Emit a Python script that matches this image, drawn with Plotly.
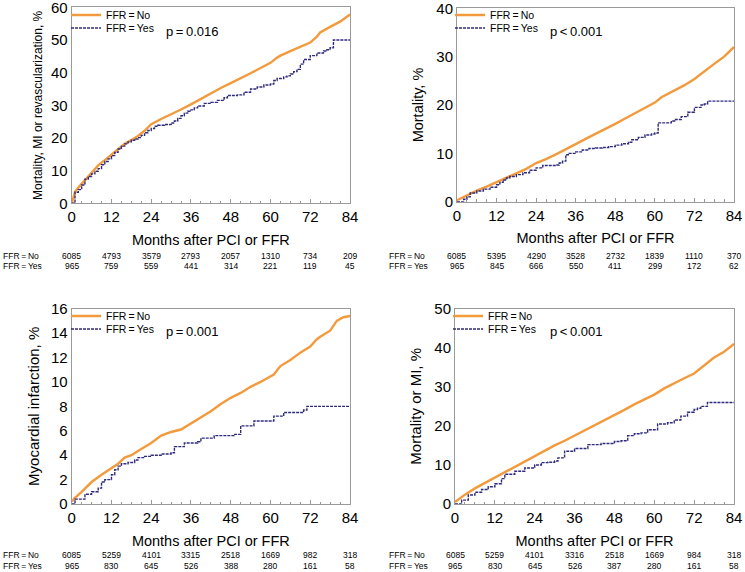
import plotly.graph_objects as go

# ---------------- data ----------------
months_ticks = [0, 12, 24, 36, 48, 60, 72, 84]

# Panel A: Mortality, MI or revascularization
a_no_t = [0, 1, 2, 4, 6, 8, 10, 12, 14, 16, 18, 20, 22, 24, 27, 30, 33, 36, 39, 42, 45, 48, 51, 54, 57, 60, 62, 63, 66, 69, 72, 74, 75, 78, 81, 84]
a_no_y = [0, 3.5, 4.8, 7.1, 9.5, 11.6, 13.2, 14.8, 16.5, 18.2, 19.4, 20.6, 22.2, 24.2, 25.8, 27.2, 28.7, 30.3, 32.0, 33.7, 35.3, 36.8, 38.2, 39.8, 41.4, 43.0, 44.6, 45.2, 46.6, 47.8, 49.2, 51.0, 52.3, 54.0, 55.6, 57.8]
a_yes_t = [0, 1, 2, 3, 4, 5, 6, 7, 8, 9, 10, 11, 12, 13, 14, 15, 16, 17, 18, 19, 20, 21, 22, 23, 24, 25, 26, 28, 30, 31, 32, 33, 34, 35, 36, 37, 38, 40, 42, 44, 46, 47, 49, 50, 52, 54, 56, 58, 60, 61, 62, 64, 65, 66, 67, 68, 69, 70, 72, 74, 76, 77, 78, 79, 84]
a_yes_y = [0, 3.4, 4.2, 5.6, 7.4, 8.2, 9.0, 9.8, 10.6, 11.8, 12.8, 13.6, 14.6, 15.6, 16.6, 17.5, 18.2, 18.8, 19.3, 19.7, 20.1, 20.8, 21.6, 22.3, 22.9, 23.6, 23.9, 24.1, 24.6, 25.2, 26.0, 26.8, 27.6, 28.2, 28.6, 29.2, 29.8, 30.6, 30.9, 31.5, 32.3, 33.0, 33.0, 33.2, 34.0, 35.0, 35.6, 36.2, 36.5, 37.6, 38.2, 38.7, 39.0, 39.6, 40.3, 41.0, 42.6, 44.0, 45.2, 46.0, 46.6, 47.0, 47.6, 50.0, 50.0]

# Panel B: Mortality
b_no_t = [0, 3, 6, 9, 12, 15, 18, 21, 24, 27, 30, 33, 36, 39, 42, 45, 48, 51, 54, 57, 60, 62, 66, 69, 72, 75, 78, 81, 84]
b_no_y = [0.3, 1.3, 2.3, 3.1, 4.0, 4.9, 5.8, 6.8, 8.0, 8.8, 9.8, 10.8, 11.9, 13.0, 14.0, 15.0, 16.1, 17.2, 18.3, 19.4, 20.5, 21.6, 23.0, 24.1, 25.4, 27.0, 28.5, 30.0, 32.0]
b_yes_t = [0, 2, 3, 4, 6, 8, 10, 12, 13, 14, 15, 16, 18, 20, 22, 24, 26, 28, 30, 31, 32, 33, 34, 36, 38, 40, 42, 44, 46, 48, 50, 52, 53, 55, 57, 59, 60, 61, 64, 65, 66, 68, 70, 72, 74, 75, 76, 84]
b_yes_y = [0, 0.5, 1.0, 1.8, 2.2, 2.6, 3.0, 3.5, 4.0, 4.5, 4.9, 5.2, 5.6, 6.0, 6.5, 7.0, 7.5, 7.5, 7.6, 8.0, 8.4, 9.7, 10.0, 10.3, 10.7, 11.0, 11.1, 11.2, 11.4, 11.7, 12.0, 12.3, 12.8, 13.3, 13.8, 14.0, 14.2, 16.3, 16.3, 16.7, 17.0, 17.6, 18.5, 19.5, 20.0, 20.2, 20.8, 20.8]

# Panel C: Myocardial infarction
c_no_t = [0, 1, 3, 6, 9, 12, 14, 16, 18, 21, 24, 27, 30, 33, 36, 39, 42, 45, 48, 51, 54, 57, 60, 61, 63, 66, 69, 72, 74, 75, 78, 80, 82, 84]
c_no_y = [0.2, 0.5, 1.0, 1.8, 2.4, 2.9, 3.3, 3.8, 4.0, 4.5, 5.0, 5.6, 5.9, 6.1, 6.6, 7.1, 7.6, 8.2, 8.7, 9.1, 9.6, 10.0, 10.4, 10.6, 11.3, 11.8, 12.4, 12.9, 13.5, 13.7, 14.2, 15.0, 15.3, 15.4]
c_yes_t = [0, 1, 4, 6, 8, 9, 10, 12, 13, 14, 15, 17, 19, 20, 22, 24, 27, 30, 31, 34, 38, 39, 43, 49, 51, 55, 61, 64, 70, 71, 84]
c_yes_y = [0, 0.4, 0.8, 1.0, 1.3, 1.8, 2.0, 2.4, 2.8, 3.1, 3.3, 3.4, 3.6, 3.8, 3.9, 4.0, 4.1, 4.2, 4.7, 5.0, 5.1, 5.4, 5.6, 5.7, 6.4, 6.8, 7.2, 7.5, 7.7, 8.0, 8.0]

# Panel D: Mortality or MI
d_no_t = [0, 3, 6, 9, 12, 15, 18, 21, 24, 27, 30, 33, 36, 39, 42, 45, 48, 51, 54, 57, 60, 63, 66, 69, 72, 75, 78, 81, 84]
d_no_y = [0.5, 2.4, 4.0, 5.4, 6.8, 8.1, 9.5, 10.8, 12.3, 13.7, 15.0, 16.2, 17.5, 18.8, 20.0, 21.4, 22.8, 24.1, 25.5, 26.8, 28.0, 29.6, 31.0, 32.2, 33.4, 35.5, 37.5, 39.0, 41.0]
d_yes_t = [0, 2, 4, 6, 8, 10, 12, 14, 15, 18, 21, 24, 26, 28, 30, 31, 33, 36, 40, 44, 48, 50, 52, 54, 56, 58, 60, 61, 64, 66, 68, 70, 72, 73, 74, 76, 84]
d_yes_y = [0, 1.0, 2.3, 3.0, 3.7, 4.4, 5.2, 6.5, 7.6, 8.4, 9.2, 10.0, 10.6, 10.7, 11.0, 11.8, 13.5, 14.2, 15.2, 15.5, 16.0, 16.2, 17.5, 18.0, 18.2, 19.0, 19.0, 20.5, 20.8, 21.5, 22.5, 23.5, 24.2, 24.5, 25.0, 26.0, 26.0]

# Numbers at risk
a_risk_no = [6085, 4793, 3579, 2793, 2057, 1310, 734, 209]
a_risk_yes = [965, 759, 559, 441, 314, 221, 119, 45]
b_risk_no = [6085, 5395, 4290, 3528, 2732, 1839, 1110, 370]
b_risk_yes = [965, 845, 666, 550, 411, 299, 172, 62]
c_risk_no = [6085, 5259, 4101, 3315, 2518, 1669, 982, 318]
c_risk_yes = [965, 830, 645, 526, 388, 280, 161, 58]
d_risk_no = [6085, 5259, 4101, 3316, 2518, 1669, 984, 318]
d_risk_yes = [965, 830, 645, 526, 387, 280, 161, 58]

y_titles = ["Mortality, MI or revascularization, %", "Mortality, %", "Myocardial infarction, %", "Mortality or MI, %"]
p_values = ["p\u2009=\u20090.016", "p\u2009<\u20090.001", "p\u2009=\u20090.001", "p\u2009<\u20090.001"]
y_ranges = [[0, 60], [0, 40], [0, 16], [0, 50]]
y_tickvals = [
    [0, 10, 20, 30, 40, 50, 60],
    [0, 10, 20, 30, 40],
    [0, 2, 4, 6, 8, 10, 12, 14, 16],
    [0, 10, 20, 30, 40, 50],
]
x_title = "Months after PCI or FFR"
lab_no = "FFR\u2009=\u2009No"
lab_yes = "FFR\u2009=\u2009Yes"

# ---------------- styling / layout ----------------
W, H = 745, 572
ORANGE = "#F29A3C"
NAVY = "#2F2C7C"
FONT = "Liberation Sans, Arial, sans-serif"

x_doms = [[71.7 / W, 350 / W], [457 / W, 734 / W], [71.7 / W, 350 / W], [455 / W, 734 / W]]
y_doms = [[1 - 203.3 / H, 1 - 7.3 / H], [1 - 201.7 / H, 1 - 8.3 / H],
          [1 - 504 / H, 1 - 308.7 / H], [1 - 504 / H, 1 - 308.7 / H]]
ytitle_sizes = [12, 14.5, 15, 15]
ytitle_standoff = [5, 9, 7, 9]
legend_x = [72, 456, 72, 454]
legend_y = [[15, 28], [15, 28], [316, 329], [316, 329]]
p_pos = [(192, 32), (576, 32), (192, 331), (576, 331)]
risk_rows = [(256, 265.5), (256, 265.5), (555, 566), (555, 566)]
risk_label_x = [1, 387, 1, 387]

curves = [
    (a_no_t, a_no_y, a_yes_t, a_yes_y),
    (b_no_t, b_no_y, b_yes_t, b_yes_y),
    (c_no_t, c_no_y, c_yes_t, c_yes_y),
    (d_no_t, d_no_y, d_yes_t, d_yes_y),
]
risks = [(a_risk_no, a_risk_yes), (b_risk_no, b_risk_yes), (c_risk_no, c_risk_yes), (d_risk_no, d_risk_yes)]

fig = go.Figure()
annotations = []
layout = dict(
    width=W, height=H,
    margin=dict(l=0, r=0, t=0, b=0),
    paper_bgcolor="white", plot_bgcolor="white",
    font=dict(family=FONT, color="black"),
    showlegend=True,
)

for i in range(4):
    n = i + 1
    xs = "" if n == 1 else str(n)
    tno, yno, tyes, yyes = curves[i]
    leg_a = "legend" if n == 1 else f"legend{2 * i + 1}"
    leg_b = f"legend{2 * i + 2}"
    fig.add_trace(go.Scatter(
        x=tno, y=yno, mode="lines", name=lab_no,
        line=dict(color=ORANGE, width=2.4),
        xaxis="x" + xs, yaxis="y" + xs, legend=leg_a,
    ))
    fig.add_trace(go.Scatter(
        x=tyes, y=yyes, mode="lines", name=lab_yes,
        line=dict(color=NAVY, width=1.4, dash="3px,1px", shape="hv"),
        xaxis="x" + xs, yaxis="y" + xs, legend=leg_b,
    ))
    for leg, yy in ((leg_a, legend_y[i][0]), (leg_b, legend_y[i][1])):
        layout[leg] = dict(
            x=(legend_x[i] - 6) / W, xanchor="left",
            y=1 - yy / H, yanchor="middle",
            bgcolor="rgba(0,0,0,0)", borderwidth=0,
            font=dict(family=FONT, size=10.5, color="black"),
            itemwidth=30, tracegroupgap=0,
        )

    layout["xaxis" + xs] = dict(
        domain=x_doms[i], anchor="y" + xs, range=[0, 84],
        tickmode="array", tickvals=months_ticks,
        ticks="inside", ticklen=4, tickcolor="#999999",
        minor=dict(ticks="inside", ticklen=2.5, tickcolor="#999999", dtick=3, tick0=0),
        showline=True, linecolor="#9a9a9a", linewidth=1, mirror=True,
        showgrid=False, zeroline=False,
        tickfont=dict(family=FONT, size=15, color="black"),
        ticklabeloverflow="allow",
        title=dict(text=x_title, font=dict(family=FONT, size=14.5, color="black"), standoff=10),
        automargin=False, fixedrange=True,
    )
    layout["yaxis" + xs] = dict(
        domain=y_doms[i], anchor="x" + xs, range=y_ranges[i],
        tickmode="array", tickvals=y_tickvals[i],
        ticks="", showline=True, linecolor="#9a9a9a", linewidth=1, mirror=True,
        showgrid=False, zeroline=False,
        tickfont=dict(family=FONT, size=15, color="black"),
        ticklabeloverflow="allow",
        title=dict(text=y_titles[i], font=dict(family=FONT, size=ytitle_sizes[i], color="black"),
                   standoff=ytitle_standoff[i]),
        automargin=False, fixedrange=True,
    )

    # p-value
    annotations.append(dict(
        text=p_values[i], xref="paper", yref="paper",
        x=p_pos[i][0] / W, y=1 - p_pos[i][1] / H,
        xanchor="center", yanchor="middle", showarrow=False,
        font=dict(family=FONT, size=13, color="black"),
    ))
    # numbers at risk
    rno, ryes = risks[i]
    for lab, row_vals, yy in ((lab_no, rno, risk_rows[i][0]), (lab_yes, ryes, risk_rows[i][1])):
        annotations.append(dict(
            text=lab, xref="paper", yref="paper",
            x=risk_label_x[i] / W, y=1 - yy / H,
            xanchor="left", yanchor="middle", showarrow=False,
            font=dict(family=FONT, size=8.5, color="black"),
        ))
        for t, v in zip(months_ticks, row_vals):
            annotations.append(dict(
                text=str(v), xref="x" + xs, yref="paper",
                x=t, y=1 - yy / H,
                xanchor="center", yanchor="middle", showarrow=False,
                font=dict(family=FONT, size=8.5, color="black"),
            ))

layout["annotations"] = annotations
fig.update_layout(**layout)
fig.write_html(
    "out.html",
    config={"displayModeBar": False, "staticPlot": True},
    post_script="document.body.style.margin='0px';document.body.style.padding='0px';",
)
